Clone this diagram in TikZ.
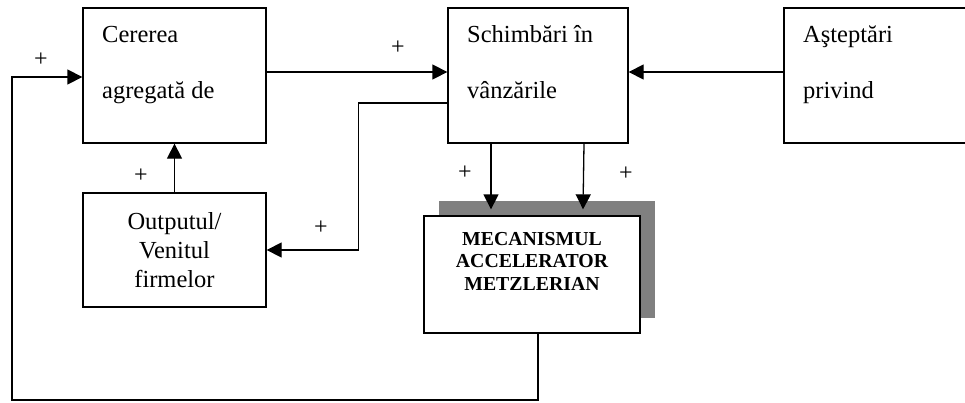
\documentclass[tikz,border=0pt]{standalone}
\usepackage{fontspec}
\setmainfont{Liberation Serif}
\usetikzlibrary{arrows.meta}

\begin{document}
\begin{tikzpicture}[x=1pt,y=-1pt,
  box/.style={draw, line width=1.3pt, rectangle, inner sep=0pt},
  txt/.style={anchor=base west, inner sep=0pt, font=\fontsize{24.5}{29}\selectfont},
  plus/.style={inner sep=0pt, font=\fontsize{24}{24}\selectfont},
  arr/.style={line width=1.3pt, -{Triangle[length=15pt,width=15pt]}},
  ln/.style={line width=1.3pt}]
  \useasboundingbox (0,0) rectangle (965,402);
  \node[box, minimum width=183, minimum height=135] (cerere) at (174.5,75.5) {};
  \node[txt] (cerere1) at (102,42) {Cererea};
  \node[txt] (cerere2) at (102,98) {agregată de};
  \node[box, minimum width=180, minimum height=135] (schimb) at (538,75.5) {};
  \node[txt] (schimb1) at (467,42) {Schimbări în};
  \node[txt] (schimb2) at (467,98) {vânzările};
  \node[box, minimum width=216, minimum height=135] (astept) at (892,75.5) {};
  \node[txt] (astept1) at (803,42) {Aşteptări};
  \node[txt] (astept2) at (803,98) {privind};
  \node[box, minimum width=183, minimum height=114, align=center,
    font=\fontsize{24.5}{29}\selectfont] (output) at (174.5,250) {Outputul/\\Venitul\\firmelor};
  \fill[gray] (439,201) rectangle (655,318);
  \node[box, fill=white, minimum width=216, minimum height=117] (mecan) at (532,274.5) {};
  \node[anchor=north, inner sep=0pt, align=center,
    font=\fontsize{19.8}{22.5}\selectfont\bfseries] (mecantxt) at (532,232)
    {MECANISMUL\\ACCELERATOR\\METZLERIAN};
  \coordinate (colt) at (12,400);
  \draw[arr] ([yshift=3.5]cerere.east) -- ([yshift=3.5]schimb.west);
  \draw[arr] ([yshift=3.5]astept.west) -- ([yshift=3.5]schimb.east);
  \draw[arr] ([yshift=-27.5]schimb.west) -| ([xshift=92]output.east) -- (output.east);
  \draw[arr] (output.north) -- (cerere.south);
  \draw[arr] ([xshift=-47]schimb.south) -- ([xshift=-41,yshift=6]mecan.north);
  \draw[arr] ([xshift=46]schimb.south) -- ([xshift=51,yshift=6]mecan.north);
  \draw[arr] ([xshift=6]mecan.south) |- (colt) |- ([yshift=-1.5]cerere.west);
  \node[plus] (p1) at (41,60) {+};
  \node[plus] (p2) at (398,48) {+};
  \node[plus] (p3) at (141,176) {+};
  \node[plus] (p4) at (321,228) {+};
  \node[plus] (p5) at (465,173) {+};
  \node[plus] (p6) at (626,174) {+};
\end{tikzpicture}
\end{document}
